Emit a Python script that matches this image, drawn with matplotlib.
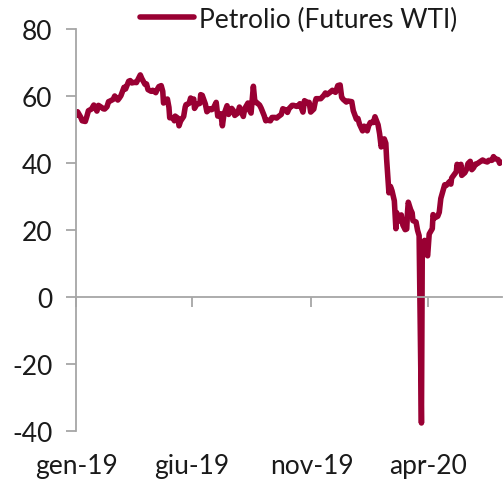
import matplotlib
matplotlib.use("Agg")
import matplotlib.pyplot as plt
import matplotlib.transforms as mtransforms
import pandas as pd

plt.rcParams['font.family'] = ['Lato', 'DejaVu Sans']
plt.rcParams['axes.unicode_minus'] = False

dates = [
 "2019-01-30","2019-02-01","2019-02-05","2019-02-07","2019-02-11","2019-02-13","2019-02-15","2019-02-19","2019-02-22","2019-02-26","2019-02-28",
 "2019-03-04","2019-03-06","2019-03-08","2019-03-11","2019-03-13","2019-03-15","2019-03-19","2019-03-21","2019-03-25","2019-03-27","2019-03-29",
 "2019-04-02","2019-04-04","2019-04-08","2019-04-10","2019-04-12","2019-04-16","2019-04-18","2019-04-23","2019-04-25","2019-04-29",
 "2019-05-01","2019-05-03","2019-05-07","2019-05-09","2019-05-13","2019-05-15","2019-05-17","2019-05-20","2019-05-22","2019-05-23","2019-05-28","2019-05-30","2019-05-31",
 "2019-06-04","2019-06-06","2019-06-07","2019-06-11","2019-06-12","2019-06-14","2019-06-18","2019-06-20","2019-06-21","2019-06-25","2019-06-27","2019-06-28",
 "2019-07-01","2019-07-02","2019-07-05","2019-07-09","2019-07-10","2019-07-12","2019-07-16","2019-07-18","2019-07-22","2019-07-24","2019-07-26","2019-07-30",
 "2019-08-01","2019-08-05","2019-08-07","2019-08-09","2019-08-13","2019-08-15","2019-08-19","2019-08-21","2019-08-23","2019-08-27","2019-08-29",
 "2019-09-03","2019-09-05","2019-09-09","2019-09-11","2019-09-13","2019-09-16","2019-09-18","2019-09-20","2019-09-24","2019-09-26","2019-09-30",
 "2019-10-02","2019-10-04","2019-10-08","2019-10-10","2019-10-14","2019-10-16","2019-10-18","2019-10-22","2019-10-24","2019-10-28","2019-10-30",
 "2019-11-01","2019-11-05","2019-11-07","2019-11-11","2019-11-13","2019-11-15","2019-11-19","2019-11-21","2019-11-25","2019-11-27","2019-11-29",
 "2019-12-03","2019-12-05","2019-12-06","2019-12-10","2019-12-12","2019-12-16","2019-12-18","2019-12-20","2019-12-24","2019-12-27","2019-12-31",
 "2020-01-03","2020-01-06","2020-01-08","2020-01-10","2020-01-14","2020-01-16","2020-01-21","2020-01-23","2020-01-27","2020-01-29","2020-01-31",
 "2020-02-04","2020-02-06","2020-02-10","2020-02-12","2020-02-14","2020-02-18","2020-02-20","2020-02-24","2020-02-26","2020-02-28",
 "2020-03-03","2020-03-05","2020-03-06","2020-03-09","2020-03-11","2020-03-13","2020-03-16","2020-03-18","2020-03-19","2020-03-20","2020-03-23","2020-03-25","2020-03-27","2020-03-30",
 "2020-04-01","2020-04-02","2020-04-03","2020-04-06","2020-04-08","2020-04-09","2020-04-13","2020-04-15","2020-04-17","2020-04-20","2020-04-21","2020-04-23","2020-04-24","2020-04-27","2020-04-28","2020-04-30",
 "2020-05-04","2020-05-05","2020-05-07","2020-05-11","2020-05-13","2020-05-15","2020-05-18","2020-05-20","2020-05-22","2020-05-26","2020-05-28","2020-05-29",
 "2020-06-02","2020-06-04","2020-06-05","2020-06-08","2020-06-10","2020-06-11","2020-06-15","2020-06-17","2020-06-19","2020-06-22","2020-06-24","2020-06-26","2020-06-29",
 "2020-07-01","2020-07-06","2020-07-08","2020-07-10","2020-07-14","2020-07-16","2020-07-20","2020-07-22","2020-07-24","2020-07-28","2020-07-30","2020-07-31",
]
wti = [
 54.2,55.3,53.7,52.6,52.4,53.9,55.6,56.1,57.3,55.5,57.2,
 56.6,56.2,56.1,56.8,58.3,58.5,59.0,60.0,58.8,59.4,60.1,
 62.6,62.1,64.4,64.6,63.9,64.1,64.0,66.3,65.2,63.5,
 63.6,61.9,61.4,61.7,61.0,62.0,62.8,63.1,61.4,57.9,59.1,56.6,53.5,
 53.5,52.6,54.0,53.3,51.1,52.5,53.9,56.7,57.4,57.8,59.4,58.5,
 59.1,56.3,57.5,57.8,60.4,60.2,57.6,55.3,56.2,55.9,56.2,58.1,
 54.0,54.7,51.1,54.5,57.1,54.5,56.3,55.7,54.2,54.9,56.7,
 53.9,56.3,57.9,55.8,54.9,62.9,58.1,58.1,57.3,56.4,54.1,
 52.6,52.8,52.6,53.6,53.6,53.4,53.8,54.5,56.2,55.8,55.1,
 56.2,57.2,57.2,56.9,57.1,57.7,55.2,58.6,58.0,58.1,55.2,
 56.1,58.4,59.2,59.2,59.2,60.2,60.9,60.4,61.1,61.7,61.1,
 63.1,63.3,59.6,59.0,58.2,58.5,58.3,55.6,53.1,53.3,51.6,
 49.6,51.0,49.6,51.2,52.1,52.1,53.8,51.4,48.7,44.8,
 47.2,45.9,41.3,31.1,33.0,31.7,28.7,20.4,25.2,22.4,23.4,24.5,21.5,20.1,
 20.3,25.3,28.3,26.1,25.1,22.8,22.4,19.9,18.3,-37.6,11.6,16.5,16.9,12.8,12.3,18.8,
 20.4,24.6,23.6,24.1,25.3,29.4,31.8,33.5,33.3,34.4,33.7,35.5,
 36.8,37.4,39.6,38.2,39.6,36.3,37.1,38.0,39.8,40.5,38.0,38.5,39.7,
 39.8,40.6,40.9,40.6,40.3,40.8,40.8,41.9,41.3,41.0,39.9,40.3,
]
tick_labels = ["gen-19", "giu-19", "nov-19", "apr-20"]
tick_dates = ["2019-01-30", "2019-06-29", "2019-11-30", "2020-04-29"]
series_name = "Petrolio (Futures WTI)"

x = pd.to_datetime(dates)
tx = pd.to_datetime(tick_dates)

fig = plt.figure(figsize=(5.04, 4.85), dpi=100)
ax = fig.add_axes([76/504, 1-432/485, 426/504, 402/485])

col = "#990033"
gray = "#a6a6a6"
txtcol = "#1a1a1a"
ax.plot(x, wti, color=col, lw=4.0, solid_capstyle='round', solid_joinstyle='round', label=series_name)

ax.set_xlim(pd.Timestamp("2019-01-30"), pd.Timestamp("2019-01-30") + pd.Timedelta(days=550))
ax.set_ylim(-40, 80)
ax.set_yticks([-40, -20, 0, 20, 40, 60, 80])

for s in ['top', 'right']:
    ax.spines[s].set_visible(False)
ax.spines['left'].set_color(gray)
ax.spines['left'].set_linewidth(1.3)
ax.spines['bottom'].set_position(('data', 0))
ax.spines['bottom'].set_color(gray)
ax.spines['bottom'].set_linewidth(1.3)

ax.tick_params(axis='y', direction='out', length=7, width=1.3, color=gray,
               labelsize=19, labelcolor=txtcol, pad=10)
ax.set_xticks(tx)
ax.set_xticklabels([])
ax.tick_params(axis='x', direction='out', length=7, width=1.3, color=gray)

trans = mtransforms.blended_transform_factory(ax.transData, ax.transAxes)
for t, lab in zip(tx, tick_labels):
    ax.text(t, -0.087, lab, transform=trans, ha='center', va='center',
            fontsize=19, color=txtcol)

leg = ax.legend(loc='center left', bbox_to_anchor=(140/504, 1-20/485),
                bbox_transform=fig.transFigure, frameon=False, fontsize=19,
                handlelength=2.05, handletextpad=0.2, borderpad=0, borderaxespad=0)
for t in leg.get_texts():
    t.set_color(txtcol)

fig.savefig("out.png", dpi=100)
